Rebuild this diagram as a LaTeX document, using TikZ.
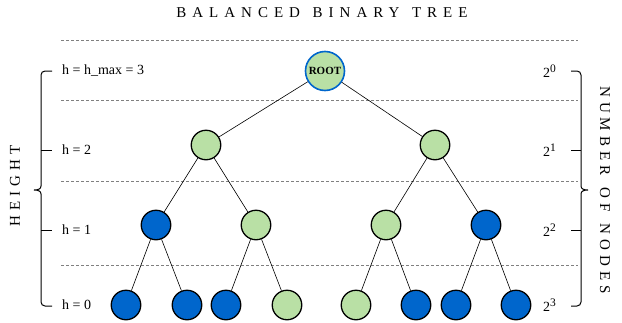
\documentclass[tikz,border=0pt]{standalone}
\usepackage{fontspec}
\setmainfont{Liberation Serif}
\newfontfamily\titlefont[LetterSpace=40,WordSpace=1.3]{Liberation Serif}
\newfontfamily\sidefont[LetterSpace=33,WordSpace=1.4]{Liberation Serif}
\definecolor{leafgreen}{HTML}{B9E0A5}
\definecolor{nodeblue}{HTML}{0066CC}
\definecolor{dotgray}{HTML}{808080}
\newcommand{\sq}[1]{2\raisebox{0.75ex}{\fontsize{11.5}{11.5}\selectfont #1}}
\begin{document}
\begin{tikzpicture}[x=1pt,y=-1pt,
  gnode/.style={circle,draw=black,line width=1.3pt,fill=leafgreen,minimum size=29.5pt,inner sep=0pt},
  bnode/.style={gnode,fill=nodeblue},
  rootnode/.style={circle,draw=nodeblue,line width=1.6pt,fill=leafgreen,minimum size=39pt,inner sep=0pt,font=\fontsize{11}{11}\selectfont\bfseries},
  treeline/.style={draw=black,line width=0.6pt},
  levelline/.style={draw=dotgray,line width=0.6pt,dash pattern=on 2.5pt off 2.5pt},
  lbl/.style={anchor=west,font=\fontsize{14}{16}\selectfont,inner sep=0pt},
  bracestyle/.style={draw=black,line width=1pt},
  spaced/.style={inner sep=0pt,font=\fontsize{15}{18}\titlefont},
  sidespaced/.style={inner sep=0pt,font=\fontsize{15}{18}\sidefont}
]
\useasboundingbox (0,0) rectangle (622,322);
% title
\node[spaced] (title) at (322,13) {BALANCED BINARY TREE};
% level lines
\foreach \yy in {40,100,181,265} \draw[levelline] (61,\yy) -- (578,\yy);
% nodes
\node[rootnode] (root) at (325,71) {ROOT};
\node[gnode] (a) at (206,145) {};
\node[gnode] (b) at (435,145) {};
\node[bnode] (a1) at (156,225) {};
\node[gnode] (a2) at (256,225) {};
\node[gnode] (b1) at (386,225) {};
\node[bnode] (b2) at (486,225) {};
\node[bnode] (l1) at (126,305) {};
\node[bnode] (l2) at (187,305) {};
\node[bnode] (l3) at (226,305) {};
\node[gnode] (l4) at (287,305) {};
\node[gnode] (l5) at (356,305) {};
\node[bnode] (l6) at (416,305) {};
\node[bnode] (l7) at (456,305) {};
\node[bnode] (l8) at (516,305) {};
% edges
\draw[treeline] (root) -- (a);
\draw[treeline] (root) -- (b);
\draw[treeline] (a) -- (a1);
\draw[treeline] (a) -- (a2);
\draw[treeline] (b) -- (b1);
\draw[treeline] (b) -- (b2);
\draw[treeline] (a1) -- (l1);
\draw[treeline] (a1) -- (l2);
\draw[treeline] (a2) -- (l3);
\draw[treeline] (a2) -- (l4);
\draw[treeline] (b1) -- (l5);
\draw[treeline] (b1) -- (l6);
\draw[treeline] (b2) -- (l7);
\draw[treeline] (b2) -- (l8);
% left labels
\node[lbl] (h3) at (62,71) {h = h\_max = 3};
\node[lbl] (h2) at (62,150) {h = 2};
\node[lbl] (h1) at (62,230) {h = 1};
\node[lbl] (h0) at (62,305) {h = 0};
% right labels
\node[lbl] (n0) at (543,71) {\sq{0}};
\node[lbl] (n1) at (543,150) {\sq{1}};
\node[lbl] (n2) at (543,230) {\sq{2}};
\node[lbl] (n3) at (543,305) {\sq{3}};
% left brace
\draw[bracestyle] (52,71) -- (45,71) to[out=180,in=90] (41,75) -- (41,186)
  .. controls (41,189) and (38,190) .. (34,190)
  .. controls (38,190) and (41,191) .. (41,194) -- (41,302)
  to[out=-90,in=180] (45,306) -- (52,306);
\draw[bracestyle] (41,150) -- (52,150);
\draw[bracestyle] (41,230) -- (52,230);
% right brace
\draw[bracestyle] (571,71) -- (577,71) to[out=0,in=90] (581,75) -- (581,186)
  .. controls (581,189) and (584,190) .. (588,190)
  .. controls (584,190) and (581,191) .. (581,194) -- (581,302)
  to[out=-90,in=0] (577,306) -- (571,306);
\draw[bracestyle] (571,150) -- (581,150);
\draw[bracestyle] (571,230) -- (581,230);
% side titles
\node[sidespaced,rotate=90] (height) at (15,186) {HEIGHT};
\node[sidespaced,rotate=-90] (count) at (605,190) {NUMBER OF NODES};
\end{tikzpicture}
\end{document}
